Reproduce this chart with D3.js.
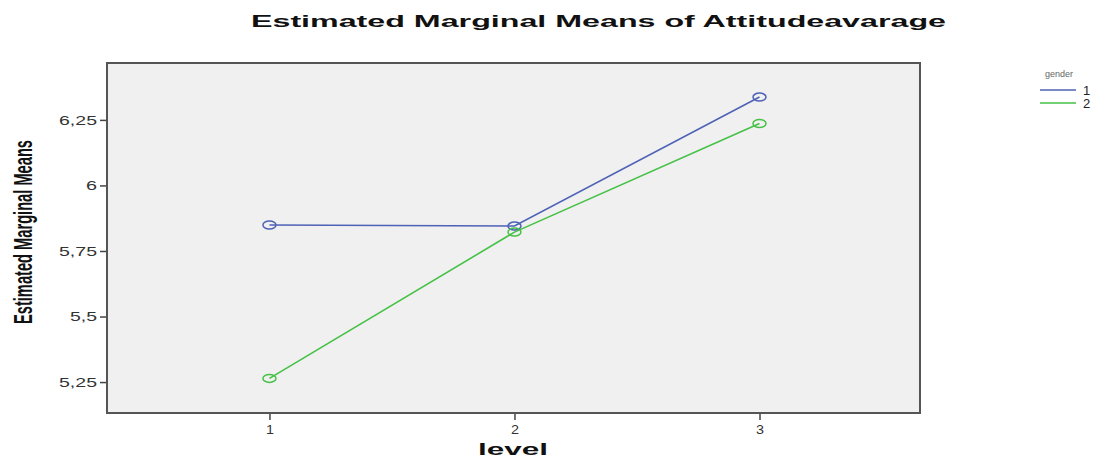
<!DOCTYPE html>
<html>
<head>
<meta charset="utf-8">
<script src="https://cdn.jsdelivr.net/npm/d3@7"></script>
<style>
  html, body { margin: 0; padding: 0; background: #fff; }
</style>
</head>
<body>
<script>
  // data
  const levels = [1, 2, 3];
  const genders = ["1", "2"];
  const gender1 = [5.849, 5.845, 6.337];
  const gender2 = [5.264, 5.822, 6.236];
  const yTicks = [5.25, 5.5, 5.75, 6, 6.25];
  const colors = ["#4e62b6", "#46c146"];

  const width = 1096, height = 459;
  const plot = { left: 107, top: 63, right: 920, bottom: 413 };

  const svg = d3.select("body").append("svg")
    .attr("width", width)
    .attr("height", height)
    .attr("font-family", "Liberation Sans, Arial, sans-serif");

  const x = d3.scaleLinear().domain([0.337, 3.655]).range([plot.left, plot.right]);
  const y = d3.scaleLinear().domain([5.132, 6.467]).range([plot.bottom, plot.top]);

  const fmt = (d) => String(d).replace(".", ",");
  // the source picture is stretched sideways, so widen the labels to match
  const labelWidth = (s) => s.replace(/[^0-9]/g, "").length * 11 + (s.includes(",") ? 5 : 0);

  // plot area
  svg.append("rect")
    .attr("x", plot.left)
    .attr("y", plot.top)
    .attr("width", plot.right - plot.left)
    .attr("height", plot.bottom - plot.top)
    .attr("fill", "#f0f0f0")
    .attr("stroke", "#555")
    .attr("stroke-width", 2);

  // axes
  const yAxis = svg.append("g")
    .attr("transform", `translate(${plot.left - 1},0)`)
    .call(d3.axisLeft(y).tickValues(yTicks).tickFormat(fmt).tickSize(6).tickPadding(3));
  yAxis.select(".domain").remove();
  yAxis.selectAll(".tick line").attr("stroke", "#444").attr("stroke-width", 1.5);
  yAxis.selectAll(".tick text")
    .attr("font-size", 13)
    .attr("fill", "#333")
    .attr("font-family", "Liberation Sans, Arial, sans-serif")
    .attr("textLength", (d) => labelWidth(fmt(d)))
    .attr("lengthAdjust", "spacingAndGlyphs");

  const xAxis = svg.append("g")
    .attr("transform", `translate(0,${plot.bottom + 1})`)
    .call(d3.axisBottom(x).tickValues(levels).tickFormat(d3.format("d")).tickSize(6).tickPadding(5));
  xAxis.select(".domain").remove();
  xAxis.selectAll(".tick line").attr("stroke", "#444").attr("stroke-width", 1.5);
  xAxis.selectAll(".tick text")
    .attr("font-size", 13)
    .attr("fill", "#333")
    .attr("font-family", "Liberation Sans, Arial, sans-serif")
    .attr("textLength", 8)
    .attr("lengthAdjust", "spacingAndGlyphs");

  // lines and markers
  const series = [gender1, gender2];
  const line = d3.line().x((d, i) => x(levels[i])).y((d) => y(d));

  series.forEach((vals, k) => {
    svg.append("path")
      .datum(vals)
      .attr("d", line)
      .attr("fill", "none")
      .attr("stroke", colors[k])
      .attr("stroke-width", 1.6);
    svg.selectAll(null)
      .data(vals)
      .join("ellipse")
      .attr("cx", (d, i) => x(levels[i]))
      .attr("cy", (d) => y(d))
      .attr("rx", 6.5)
      .attr("ry", 4)
      .attr("fill", "none")
      .attr("stroke", colors[k])
      .attr("stroke-width", 1.5);
  });

  // title
  svg.append("text")
    .attr("x", 251)
    .attr("y", 27)
    .attr("font-size", 17)
    .attr("font-weight", "bold")
    .attr("fill", "#111")
    .attr("textLength", 695)
    .attr("lengthAdjust", "spacingAndGlyphs")
    .text("Estimated Marginal Means of Attitudeavarage");

  // axis titles
  svg.append("text")
    .attr("transform", "translate(32,232) rotate(-90)")
    .attr("text-anchor", "middle")
    .attr("font-size", 25)
    .attr("font-weight", "bold")
    .attr("fill", "#111")
    .attr("textLength", 184)
    .attr("lengthAdjust", "spacingAndGlyphs")
    .text("Estimated Marginal Means");

  svg.append("text")
    .attr("x", 513)
    .attr("y", 455)
    .attr("text-anchor", "middle")
    .attr("font-size", 16)
    .attr("font-weight", "bold")
    .attr("fill", "#111")
    .attr("textLength", 70)
    .attr("lengthAdjust", "spacingAndGlyphs")
    .text("level");

  // legend
  const legend = svg.append("g").attr("transform", "translate(1040,0)");
  legend.append("text")
    .attr("x", 5)
    .attr("y", 77)
    .attr("font-size", 9)
    .attr("fill", "#666")
    .text("gender");
  genders.forEach((g, k) => {
    const ly = 90 + k * 13;
    legend.append("line")
      .attr("x1", 0).attr("x2", 36)
      .attr("y1", ly).attr("y2", ly)
      .attr("stroke", colors[k])
      .attr("stroke-width", 1.6);
    legend.append("text")
      .attr("x", 43)
      .attr("y", ly + 5)
      .attr("font-size", 13)
      .attr("fill", "#222")
      .text(g);
  });
</script>
</body>
</html>
